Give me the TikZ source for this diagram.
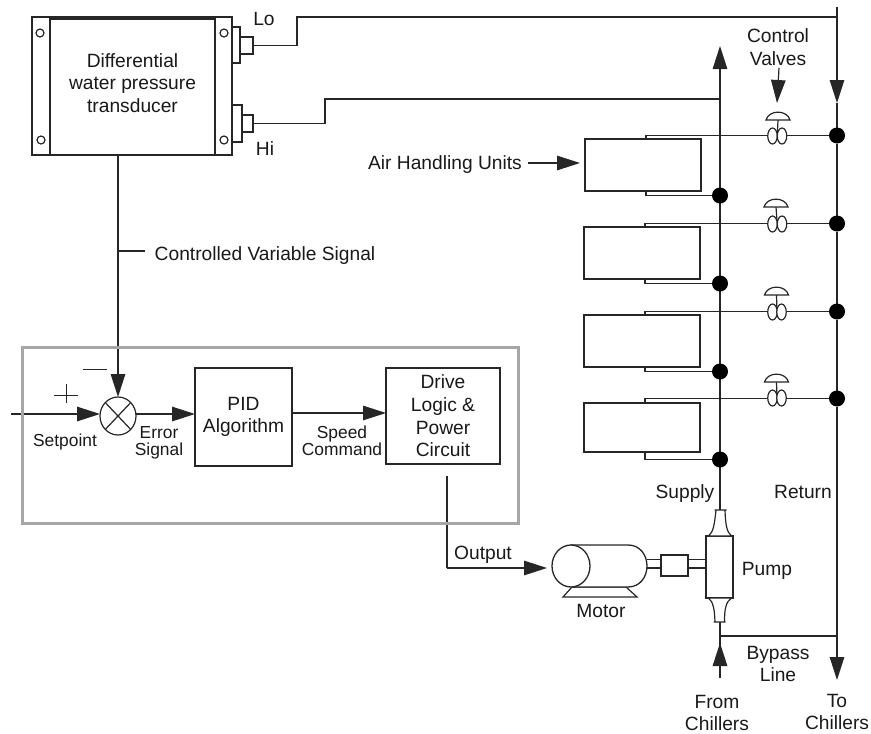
\documentclass[tikz,border=0pt]{standalone}
\usepackage{fontspec}
\setmainfont{Liberation Sans}
\usetikzlibrary{arrows.meta,shapes.geometric,calc}
\pgfdeclarelayer{bg}
\pgfsetlayers{bg,main}
\definecolor{ink}{HTML}{262626}
\tikzset{
  every node/.style={inner sep=0pt,outer sep=0pt},
  flow/.style={draw=ink,line width=1.4pt},
  thin flow/.style={draw=ink,line width=1.2pt},
  solid tip/.style={-{Triangle[length=23pt,width=14.5pt]}},
  box/.style={draw=ink,line width=1.4pt,fill=white,rectangle,align=center},
  big/.style={font=\fontsize{19.2}{22.6}\selectfont,align=center,text=black!90},
  small/.style={font=\fontsize{17.4}{17.5}\selectfont,align=center,text=black!90},
  dot/.style={circle,fill=black,minimum size=16pt},
  bolt/.style={circle,draw=ink,line width=1.2pt,fill=white,minimum size=8pt},
  lobe/.style={ellipse,draw=ink,line width=1.2pt,fill=white,minimum width=9.5pt,minimum height=16pt},
  panel/.style={draw=black!35,line width=3pt},
}
\begin{document}
\begin{tikzpicture}[x=1pt,y=-1pt]
\useasboundingbox (0,0) rectangle (871,734);

% ---- control panel
\node[panel,rectangle,minimum width=496pt,minimum height=176pt] (panel) at (270,435) {};

% ---- transducer
\node[box,minimum width=200pt,minimum height=138pt] (xd) at (132,86) {};
\node[box,minimum width=165pt,minimum height=136pt] (xdin) at (132.5,87) {};
\node[big] (xdtxt) at (132.5,83) {Differential\\water pressure\\transducer};
\node[bolt] (b1) at (40,33) {};
\node[bolt] (b2) at (224,33) {};
\node[bolt] (b3) at (41,140) {};
\node[bolt] (b4) at (224,140) {};
\node[box,minimum width=8pt,minimum height=36pt] (loa) at (236,45) {};
\node[box,minimum width=13pt,minimum height=17pt] (lob) at (246.5,45.5) {};
\node[box,minimum width=10pt,minimum height=37pt] (hia) at (237,123.5) {};
\node[box,minimum width=11pt,minimum height=17pt] (hib) at (247.5,123.5) {};
\node[big] (lotxt) at (264,19) {Lo};
\node[big] (hitxt) at (265,149) {Hi};

% ---- junction and blocks
\node[ellipse,draw=ink,line width=1.2pt,fill=white,minimum width=36pt,minimum height=38pt] (sum) at (118,416) {};
\draw[ink,line width=1.2pt] (sum.north west) -- (sum.south east) (sum.north east) -- (sum.south west);
\node[box,big,minimum width=97pt,minimum height=98pt] (pid) at (243.5,417) {PID\\Algorithm};
\node[box,big,minimum width=114pt,minimum height=96pt] (drive) at (443,416) {Drive\\Logic \&\\Power\\Circuit};

% ---- air handling units
\node[box,minimum width=116pt,minimum height=52pt] (ahu1) at (643,165) {};
\node[box,minimum width=116pt,minimum height=52pt] (ahu2) at (642,253) {};
\node[box,minimum width=116pt,minimum height=52pt] (ahu3) at (642,341) {};
\node[box,minimum width=116pt,minimum height=49pt] (ahu4) at (642,427.5) {};

% ---- return and supply junctions
\node[dot] (rd1) at (837,135.5) {};
\node[dot] (rd2) at (837,223.5) {};
\node[dot] (rd3) at (837,311.5) {};
\node[dot] (rd4) at (837,398.5) {};
\node[dot] (sd1) at (720,195.5) {};
\node[dot] (sd2) at (720,283.5) {};
\node[dot] (sd3) at (720,371.5) {};
\node[dot] (sd4) at (720,459.5) {};

% ---- control valves
\node[lobe] (v1a) at (772.5,136) {};
\node[lobe] (v1b) at (782,136) {};
\node[lobe] (v2a) at (772.5,224) {};
\node[lobe] (v2b) at (782,224) {};
\node[lobe] (v3a) at (772.5,312) {};
\node[lobe] (v3b) at (781.5,312) {};
\node[lobe] (v4a) at (772.5,398) {};
\node[lobe] (v4b) at (781.5,398) {};
\foreach \n/\x/\y in {1/778/120,2/776/207,3/776.5/295,4/776.5/382}{
  \coordinate (cap\n) at (\x,\y);
  \draw[ink,line width=1.2pt,fill=white]
    ($(cap\n)+(-12,0)$) .. controls ($(cap\n)+(-9,-10.5)$) and ($(cap\n)+(9,-10.5)$) .. ($(cap\n)+(12,0)$) -- cycle;
}

% ---- pump
\node[box,minimum width=27pt,minimum height=62pt] (pump) at (719.5,567) {};
\coordinate (ptop) at (720.5,510);
\coordinate (pbot) at (719.5,622);
\draw[ink,line width=1.2pt,fill=white]
  ($(ptop)+(-6,0)$) -- ($(ptop)+(6,0)$) ++(-1.5,0) .. controls ($(ptop)+(5,14)$) and ($(ptop)+(6,22)$) .. ($(ptop)+(11,26)$)
  -- ($(ptop)+(-12,26)$) .. controls ($(ptop)+(-7,22)$) and ($(ptop)+(-6,14)$) .. ($(ptop)+(-4.5,0)$);
\draw[ink,line width=1.2pt,fill=white]
  ($(pbot)+(-6,0)$) -- ($(pbot)+(6,0)$) ++(-1,0) .. controls ($(pbot)+(5,-12)$) and ($(pbot)+(6,-20)$) .. ($(pbot)+(12,-24)$)
  -- ($(pbot)+(-11,-24)$) .. controls ($(pbot)+(-6,-20)$) and ($(pbot)+(-5,-12)$) .. ($(pbot)+(-4.5,0)$);

% ---- motor
\draw[ink,line width=1.2pt,fill=white] (572,587) -- (563,597) -- (637,597) -- (626,587) -- cycle;
\draw[ink,line width=1.3pt,fill=white] (571,545) -- (628,545) .. controls (640,545) and (647,555) .. (647,566)
   .. controls (647,577) and (640,587) .. (628,587) -- (571,587) -- cycle;
\node[ellipse,draw=ink,line width=1.3pt,fill=white,minimum width=38pt,minimum height=42pt] (motor) at (571,566) {};
\node[box,minimum width=27pt,minimum height=21pt] (coupling) at (674.5,565.5) {};

% ---- free ends of connectors
\coordinate (lostub) at (297,45.5);
\coordinate (lotop) at (297,17);
\coordinate (rettop) at (837,7);
\coordinate (retmark) at (837,103);
\coordinate (rettee) at (837,17);
\coordinate (retbyp) at (837,636);
\coordinate (retend) at (837,680);
\coordinate (histub) at (325,123.5);
\coordinate (hitop) at (325,99);
\coordinate (suptee) at (720,99);
\coordinate (supstart) at (720,510);
\coordinate (supend) at (720,46);
\coordinate (frombot) at (720,678);
\coordinate (fromtip) at (720,643);
\coordinate (frompump) at (720,622);
\coordinate (byptee) at (720,636);
\coordinate (xdstem) at (118,155);
\coordinate (cvtee) at (118,251);
\coordinate (cvend) at (145,251);
\coordinate (spstart) at (11,414);
\coordinate (outstart) at (447,476);
\coordinate (outbend) at (447,568);
\coordinate (outtip) at (547,568);
\coordinate (ahutail) at (528,163);
\coordinate (ahutip) at (580,163);
\coordinate (cvtail) at (779,68);
\coordinate (cvtip) at (777,103);
\coordinate (errstart) at (136,414);
\coordinate (errtip) at (195,414);
\coordinate (spdstart) at (292,413);
\coordinate (spdtip) at (386,413);

\begin{pgfonlayer}{bg}
  % sensing lines
  \draw[flow] (lob.east) -- (lostub) -- (lotop) -- (rettee);
  \draw[flow] (hib.east) -- (histub) -- (hitop) -- (suptee);
  % return main
  \draw[flow,solid tip] (rettop) -- (retmark);
  \draw[flow] (retmark) -- (rd1) -- (rd2) -- (rd3) -- (rd4) -- (retbyp);
  \draw[flow,solid tip] (retbyp) -- (retend);
  % supply main
  \draw[flow,solid tip] (supstart) -- (supend);
  \draw[flow] (frompump) -- (frombot);
  \draw[flow,solid tip] (frombot) -- (fromtip);
  \draw[flow] (byptee) -- (retbyp);
  % air handling unit branches
  \foreach \n in {1,2,3,4}{
    \draw[flow] ([xshift=3pt]ahu\n.north) |- (rd\n);
    \draw[thin flow] ([xshift=3pt]ahu\n.south) |- (sd\n);
    \draw[thin flow] (cap\n) -- ($(v\n a)!0.5!(v\n b)$);
  }
  % control signal
  \draw[flow,solid tip] (xdstem) -- (sum.north);
  \draw[thin flow] (cvtee) -- (cvend);
  \draw[flow,solid tip] (spstart) -- (sum.west |- spstart);
  \draw[flow,solid tip] (errstart) -- (errtip);
  \draw[thin flow,solid tip] (spdstart) -- (spdtip);
  \draw[flow] (outstart) -- (outbend);
  \draw[flow,solid tip] (outbend) -- (outtip);
  \draw[thin flow,solid tip] (ahutail) -- (ahutip);
  \draw[thin flow,solid tip] (cvtail) -- (cvtip);
  % motor shaft
  \draw[thin flow] (647,559.5) -- (661,559.5) (647,568) -- (661,568);
  \draw[thin flow] (688,559.5) -- (706,559.5) (688,568) -- (706,568);
  % plus and minus
  \draw[thin flow,line width=0.9pt] (54,395) -- (78,395) (66,384) -- (66,403);
  \draw[thin flow,line width=0.9pt] (83,369) -- (107,369);
\end{pgfonlayer}

% ---- labels
\node[big] (tcv) at (778,47) {Control\\Valves};
\node[big] (tahu) at (445,165) {Air Handling Units};
\node[big] (tctl) at (265,256) {Controlled Variable Signal};
\node[small] (tsp) at (65,442) {Setpoint};
\node[small] (terr) at (159,443) {Error\\Signal};
\node[small] (tspd) at (342,441) {Speed\\Command};
\node[big] (tout) at (483,555) {Output};
\node[big] (tsup) at (685,494) {Supply};
\node[big] (tret) at (803,492) {Return};
\node[big] (tmot) at (601,611) {Motor};
\node[big] (tpmp) at (767,571) {Pump};
\node[big] (tbyp) at (778,664) {Bypass\\Line};
\node[big] (tfrm) at (717,713) {From\\Chillers};
\node[big] (tto) at (837,712) {To\\Chillers};
\end{tikzpicture}
\end{document}
